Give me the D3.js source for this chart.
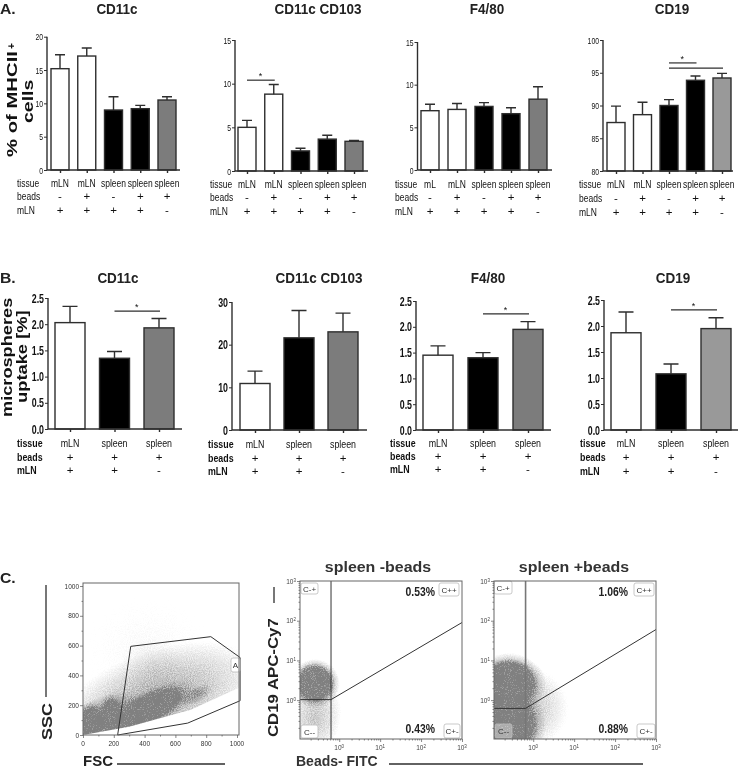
<!DOCTYPE html>
<html><head><meta charset="utf-8">
<script src="https://cdn.jsdelivr.net/npm/d3@7/dist/d3.min.js"></script>
<style>html,body{margin:0;padding:0;background:#fff}svg{display:block;opacity:.999}</style>
</head><body><svg id="c" width="740" height="770"></svg>
<script>
// ---- values
const tissue5 = ["mLN","mLN","spleen","spleen","spleen"];
const tissueF = ["mL","mLN","spleen","spleen","spleen"];
const beads5 = ["-","+","-","+","+"];
const mln5 = ["+","+","+","+","-"];
const tissue3 = ["mLN","spleen","spleen"];
const beads3 = ["+","+","+"];
const mln3 = ["+","+","-"];
const a1Mean = [15.2,17.1,9.0,9.2,10.5], a1Top = [17.3,18.3,11.0,9.7,11.0];
const a2Mean = [5.0,8.8,2.3,3.65,3.4], a2Top = [5.8,9.9,2.6,4.1,3.5];
const a3Mean = [6.95,7.1,7.45,6.6,8.3], a3Top = [7.7,7.8,7.9,7.3,9.75];
const a4Mean = [87.4,88.6,90.0,93.85,94.2], a4Top = [89.9,90.5,90.9,94.5,94.9];
const b1Mean = [2.03,1.35,1.93], b1Top = [2.34,1.48,2.11];
const b2Mean = [10.9,21.6,23.0], b2Top = [13.8,28.0,27.4];
const b3Mean = [1.45,1.4,1.95], b3Top = [1.63,1.5,2.1];
const b4Mean = [1.87,1.08,1.95], b4Top = [2.27,1.27,2.16];
const ticks15 = [0,5,10,15], ticks20 = [0,5,10,15,20], ticks100 = [80,85,90,95,100];
const ticks25 = [0,0.5,1,1.5,2,2.5], ticks30 = [0,10,20,30];
const scatterTicks = [0,200,400,600,800,1000];
const logTicks = [1,10,100,1000];
// FSC / SSC gate, and quadrant gates (x break, y break, right-end y)
const gateA = [[225,0],[310,595],[830,660],[1020,520],[1020,230],[680,80],[225,0]];
const edgeA = [[0,0],[300,55],[700,170],[1020,320],[1020,1000],[0,1000]];
const gateMinus = [0.63,1.03,90];
const gatePlus = [0.65,0.62,60];
// cell clouds: centre, radii, angle, density
const cloudA = [[420,560,760,640,0,.1],[460,215,760,330,-20,.6],[450,450,220,190,0,.1],[180,120,320,150,-15,.7],
  [55,85,110,135,0,1],[185,125,90,150,0,1],[430,180,320,120,-26,1],[730,270,120,55,-25,.6]];
const cloudMinus = [[-.1,.2,.8,1.1,0,.06],[-.6,-.45,.7,1.0,0,.42],[-.6,.42,.62,.64,0,.92]];
const cloudPlus = [[-.1,-.2,1.1,1.15,0,.42],[-.6,.4,.92,.82,0,1],[-.6,-.6,.92,1.0,0,1]];

// ---- layout
const A5 = {bw:18,cap:10,tf:9.5,tsx:.72,rowFs:11.5,rowSx:.74,rowW:"normal"};
const B3 = {bw:30,cap:15,tf:13,tsx:.68,rowFs:11.5,rowSx:.77,rowW:"bold",fmt:".1f",tw:"bold"};
const panels = [
 {...A5,t:"CD11c",tx:117,ty:14,m:a1Mean,e:a1Top,tk:ticks20,dom:[0,20],x0:47,x1:180,yTop:36.7,yBot:170,c0:60,c4:167,cols:["w","w","k","k","g"],tis:tissue5,bd:beads5,ml:mln5,lx:17,rows:[187,200,214],sigs:[]},
 {...A5,t:"CD11c CD103",tx:318,ty:14,m:a2Mean,e:a2Top,tk:ticks15,dom:[0,15],x0:235,x1:368,yTop:40,yBot:171,c0:247,c4:354,cols:["w","w","k","k","g"],tis:tissue5,bd:beads5,ml:mln5,lx:210,rows:[188,201,215],sigs:[[0,1,10.4]]},
 {...A5,t:"F4/80",tx:487,ty:14,m:a3Mean,e:a3Top,tk:ticks15,dom:[0,15],x0:417.5,x1:552,yTop:42,yBot:170,c0:430,c4:538,cols:["w","w","k","k","g"],tis:tissueF,bd:beads5,ml:mln5,lx:395,rows:[188,201,215],sigs:[]},
 {...A5,t:"CD19",tx:672,ty:14,m:a4Mean,e:a4Top,tk:ticks100,dom:[80,100],x0:603,x1:733,yTop:40,yBot:171,c0:616,c4:722,cols:["w","w","k","k","l"],tis:tissue5,bd:beads5,ml:mln5,lx:579,rows:[188,202,216],sigs:[[2,3,96.5],[2,4,95.7]]},
 {...B3,t:"CD11c",tx:118,ty:283,m:b1Mean,e:b1Top,tk:ticks25,dom:[0,2.5],x0:48,x1:182,yTop:298,yBot:429,c0:70,c4:159,cols:["w","k","g"],tis:tissue3,bd:beads3,ml:mln3,lx:17,rows:[447,461,474],sigs:[[1,2,2.25]]},
 {...B3,fmt:"d",t:"CD11c CD103",tx:319,ty:283,m:b2Mean,e:b2Top,tk:ticks30,dom:[0,30],x0:232,x1:367,yTop:302,yBot:430,c0:255,c4:343,cols:["w","k","g"],tis:tissue3,bd:beads3,ml:mln3,lx:208,rows:[448,462,475],sigs:[]},
 {...B3,t:"F4/80",tx:488,ty:283,m:b3Mean,e:b3Top,tk:ticks25,dom:[0,2.5],x0:416,x1:551,yTop:301,yBot:430,c0:438,c4:528,cols:["w","k","g"],tis:tissue3,bd:beads3,ml:mln3,lx:390,rows:[447,460,473],sigs:[[1,2,2.25]]},
 {...B3,t:"CD19",tx:673,ty:283,m:b4Mean,e:b4Top,tk:ticks25,dom:[0,2.5],x0:604,x1:738,yTop:300,yBot:430,c0:626,c4:716,cols:["w","k","l"],tis:tissue3,bd:beads3,ml:mln3,lx:580,rows:[447,461,475],sigs:[[1,2,2.31]]}
];
const fills = {w:"#fff",k:"#000",g:"#7c7c7c",l:"#999"};
const INK="#2e2e2e", SANS="'Liberation Sans',Arial,sans-serif";
const svg = d3.select("#c");
const defs = svg.append("defs");

function text(g,x,y,s,o={}){
  const tf=`translate(${x},${y})`+(o.rot?" rotate(-90)":"")+(o.sx?` scale(${o.sx},1)`:"");
  return g.append("text").attr("transform",tf).text(s)
   .attr("font-family",SANS).attr("font-size",o.fs||11)
   .attr("font-weight",o.fw||"normal").attr("fill",o.fill||"#111")
   .attr("text-anchor",o.a||"start");
}

panels.forEach(p=>{
  const g=svg.append("g");
  const idx=d3.range(p.m.length);
  const x=d3.scalePoint().domain(idx).range([p.c0,p.c4]);
  const y=d3.scaleLinear().domain(p.dom).range([p.yBot,p.yTop]);
  text(g,p.tx,p.ty,p.t,{fw:"bold",fs:14.5,sx:.93,a:"middle",fill:"#222"});
  g.selectAll(".bar").data(idx).join("rect").attr("class","bar")
   .attr("x",i=>x(i)-p.bw/2).attr("width",p.bw)
   .attr("y",i=>y(p.m[i])).attr("height",i=>p.yBot-y(p.m[i]))
   .attr("fill",i=>fills[p.cols[i]]).attr("stroke",INK).attr("stroke-width",1.4);
  g.selectAll(".err").data(idx).join("path").attr("class","err")
   .attr("d",i=>`M${x(i)},${y(p.m[i])}V${y(p.e[i])}M${x(i)-p.cap/2},${y(p.e[i])}h${p.cap}`)
   .attr("fill","none").attr("stroke",INK).attr("stroke-width",1.4);
  const ay=g.append("g").attr("transform",`translate(${p.x0},0)`)
   .call(d3.axisLeft(y).tickValues(p.tk).tickSize(3).tickPadding(1)
     .tickFormat(d3.format(p.fmt||"d")));
  ay.selectAll("text").attr("font-family",SANS).attr("font-size",p.tf)
    .attr("font-weight",p.tw||"normal").attr("fill","#111")
    .attr("x",-4/p.tsx).attr("transform",`scale(${p.tsx},1)`);
  const ax=g.append("g").attr("transform",`translate(0,${p.yBot})`)
   .call(d3.axisBottom(d3.scaleLinear().domain([p.x0,p.x1]).range([p.x0,p.x1]))
     .tickValues(idx.map(i=>x(i))).tickSize(3).tickFormat(""));
  [ay,ax].forEach(a=>{a.selectAll("path,line").attr("stroke",INK).attr("stroke-width",1.4);
    a.select(".domain").attr("d",a===ay?`M0,${p.yTop}V${p.yBot}`:`M${p.x0},0H${p.x1}`);});
  ay.selectAll(".tick line").attr("stroke-width",1);
  (p.sigs||[]).forEach((s,k)=>{
    g.append("line").attr("x1",x(s[0])).attr("x2",x(s[1])+1).attr("y1",y(s[2])).attr("y2",y(s[2]))
     .attr("stroke",INK).attr("stroke-width",1.2);
    if(k===0) text(g,x(s[0])+(x(s[1])-x(s[0]))/2,y(s[2])-1,"*",{fs:9,a:"middle"});
  });
  const tsty={fs:p.rowFs,sx:p.rowSx};
  ["tissue","beads","mLN"].forEach((r,k)=>text(g,p.lx,p.rows[k],r,{...tsty,fw:p.rowW}));
  idx.forEach(i=>{
    text(g,x(i),p.rows[0],p.tis[i],{...tsty,a:"middle"});
    text(g,x(i),p.rows[1],p.bd[i],{fs:11.5,a:"middle"});
    text(g,x(i),p.rows[2],p.ml[i],{fs:11.5,a:"middle"});
  });
});

// side labels
const lab=svg.append("g");
text(lab,0,14,"A.",{fw:"bold",fs:15,sx:1.05,fill:"#222"});
text(lab,0,283,"B.",{fw:"bold",fs:15,sx:1.05,fill:"#222"});
text(lab,0,583,"C.",{fw:"bold",fs:15,sx:1.05,fill:"#222"});
text(lab,17,157,"% of MHCII",{fw:"bold",fs:14,sx:1.45,rot:1});
text(lab,15,49,"+",{fw:"bold",fs:10,rot:1});
text(lab,33,123,"cells",{fw:"bold",fs:14,sx:1.39,rot:1});
text(lab,12,417,"microspheres",{fw:"bold",fs:14,sx:1.3,rot:1});
text(lab,27,403,"uptake [%]",{fw:"bold",fs:14,sx:1.31,rot:1});

// grain: density modulated by fine noise
const fl=defs.append("filter").attr("id","speck").attr("filterUnits","userSpaceOnUse")
 .attr("x",0).attr("y",560).attr("width",740).attr("height",210).attr("color-interpolation-filters","sRGB");
fl.append("feTurbulence").attr("type","fractalNoise").attr("baseFrequency",0.95).attr("numOctaves",2).attr("seed",4).attr("result","t");
fl.append("feColorMatrix").attr("in","t").attr("type","matrix")
 .attr("values","0 0 0 0 0 0 0 0 0 0 0 0 0 0 0 2.2 0 0 0 -0.6").attr("result","n");
fl.append("feComposite").attr("in","SourceGraphic").attr("in2","n").attr("operator","arithmetic")
 .attr("k1",.7).attr("k2",.65).attr("k3",0).attr("k4",0).attr("result","s");
const ct=fl.append("feComponentTransfer").attr("in","s").attr("result","a");
ct.append("feFuncA").attr("type","linear").attr("slope",1.25).attr("intercept",-.08);
fl.append("feFlood").attr("flood-color","#808080").attr("result","f");
fl.append("feComposite").attr("in","f").attr("in2","a").attr("operator","in");
const gr=defs.append("radialGradient").attr("id","plateau");
[[0,1],[.62,1],[.8,.3],[1,0]].forEach(s=>gr.append("stop").attr("offset",s[0]).attr("stop-color","#000").attr("stop-opacity",s[1]));
const gs=defs.append("radialGradient").attr("id","soft");
[[0,1],[.5,.55],[1,0]].forEach(s=>gs.append("stop").attr("offset",s[0]).attr("stop-color","#000").attr("stop-opacity",s[1]));
const cloudFill=d=>d[5]>=.9?"url(#plateau)":"url(#soft)";

function labelBox(g,b){
  g.append("rect").attr("x",b.x).attr("y",b.y).attr("width",b.w).attr("height",b.h).attr("rx",2)
   .attr("fill","#fff").attr("fill-opacity",b.op==null?1:b.op).attr("stroke","#bbb").attr("stroke-width",.8);
  text(g,b.x+b.w/2,b.y+b.h/2+3,b.s,{fs:8,a:"middle",fill:"#333"});
}
function frameAxes(g,x,y,vals,fmt,minor){
  const f=(sel,ax)=>{sel.call(ax);sel.select(".domain").remove();
    sel.selectAll("line").attr("stroke","#555").attr("stroke-width",.7);};
  const fx0=x.range()[0], fy1=y.range()[0];
  f(g.append("g").attr("transform",`translate(0,${fy1})`),d3.axisBottom(x).tickValues(vals).tickSize(3).tickFormat(""));
  f(g.append("g").attr("transform",`translate(${fx0},0)`),d3.axisLeft(y).tickValues(vals).tickSize(3).tickFormat(""));
  f(g.append("g").attr("transform",`translate(0,${fy1})`),d3.axisBottom(x).tickValues(minor).tickSize(1.5).tickFormat(""));
  f(g.append("g").attr("transform",`translate(${fx0},0)`),d3.axisLeft(y).tickValues(minor).tickSize(1.5).tickFormat(""));
  vals.forEach(v=>{fmt(g,x(v),fy1+11,v,"middle");fmt(g,fx0-4,y(v)+2.5,v,"end");});
}

// FSC/SSC panel
(function(){
  const x=d3.scaleLinear().domain([0,1000]).range([83,237]);
  const y=d3.scaleLinear().domain([0,1000]).range([735,586]);
  const g=svg.append("g");
  defs.append("clipPath").attr("id","clipA").append("path")
   .attr("d",d3.line().x(d=>x(d[0])).y(d=>y(d[1]))(edgeA)+"Z");
  defs.append("clipPath").attr("id","frameA").append("rect").attr("x",83).attr("y",583).attr("width",156).attr("height",152);
  const gf=g.append("g").attr("clip-path","url(#frameA)").append("g").attr("clip-path","url(#clipA)").append("g").attr("filter","url(#speck)");
  const k=154/1000;
  gf.selectAll("ellipse").data(cloudA).join("ellipse")
   .attr("rx",d=>d[2]*k).attr("ry",d=>d[3]*k)
   .attr("transform",d=>`translate(${x(d[0])},${y(d[1])}) rotate(${d[4]})`)
   .attr("fill",cloudFill).attr("opacity",d=>d[5]);
  g.append("path").attr("d",d3.line().x(d=>x(d[0])).y(d=>y(d[1]))(gateA)).attr("fill","none").attr("stroke","#333").attr("stroke-width",1);
  labelBox(g,{x:231,y:658,w:9,h:14,s:"A"});
  g.append("rect").attr("x",83).attr("y",583).attr("width",156).attr("height",152).attr("fill","none").attr("stroke","#666").attr("stroke-width",1);
  const fmt=(gg,px,py,v,a)=>text(gg,px,py,v,{fs:6.5,a,fill:"#333"});
  frameAxes(g,x,y,scatterTicks,fmt,d3.range(100,1000,200));
  g.append("line").attr("x1",46).attr("x2",46).attr("y1",585).attr("y2",697).attr("stroke",INK).attr("stroke-width",1.3);
  text(g,52,740,"SSC",{fw:"bold",fs:15,sx:1.2,rot:1,fill:"#222"});
  text(g,83,766,"FSC",{fw:"bold",fs:15,fill:"#222"});
  g.append("line").attr("x1",117).attr("x2",225).attr("y1",764).attr("y2",764).attr("stroke",INK).attr("stroke-width",1.3);
})();

function logPanel(cfg){
  const x=d3.scaleLog().domain([cfg.xMin,1000]).range([cfg.l,cfg.r]);
  const y=d3.scaleLog().domain([cfg.yMin,1000]).range([739,581]);
  const g=svg.append("g");
  const id="f"+cfg.l;
  defs.append("clipPath").attr("id",id).append("rect").attr("x",cfg.l).attr("y",581).attr("width",cfg.r-cfg.l).attr("height",158);
  const gf=g.append("g").attr("clip-path",`url(#${id})`).append("g").attr("filter","url(#speck)");
  const pw=v=>Math.pow(10,v);
  gf.selectAll("ellipse").data(cfg.cloud).join("ellipse")
   .attr("cx",d=>x(pw(d[0]))).attr("cy",d=>y(pw(d[1])))
   .attr("rx",d=>x(pw(d[0]+d[2]))-x(pw(d[0]))).attr("ry",d=>y(pw(d[1]))-y(pw(d[1]+d[3])))
   .attr("fill",cloudFill).attr("opacity",d=>d[5]);
  const [gx,gy,endY]=cfg.gate;
  const gl=g.append("g").attr("fill","none").attr("stroke","#333").attr("stroke-width",1);
  gl.append("line").attr("x1",x(gx)).attr("x2",x(gx)).attr("y1",581).attr("y2",739).attr("stroke",cfg.vCol||"#333").attr("stroke-width",cfg.vW||1);
  gl.append("path").attr("d",`M${cfg.l},${y(gy)}L${x(gx)},${y(gy)}L${cfg.r},${y(endY)}`);
  cfg.boxes.forEach(b=>labelBox(g,b));
  g.append("rect").attr("x",cfg.l).attr("y",581).attr("width",cfg.r-cfg.l).attr("height",158).attr("fill","none").attr("stroke","#666").attr("stroke-width",1);
  const fmt=(gg,px,py,v,a)=>{
    const t=text(gg,px,py,"",{fs:6.5,a,fill:"#444"});
    t.append("tspan").text("10");
    t.append("tspan").attr("dy",-2).attr("font-size",4.5).text(Math.round(Math.log10(v)));
  };
  const minor=[];
  [0.1,1,10,100].forEach(d=>d3.range(2,10).forEach(m=>{ if(d*m>=cfg.xMin&&d*m>=cfg.yMin) minor.push(d*m); }));
  frameAxes(g,x,y,logTicks,fmt,minor);
  cfg.pct.forEach(s=>text(g,cfg.pctX,s[1],s[0],{fw:"bold",fs:13,sx:.8,a:"end",fill:"#222"}));
  text(g,cfg.tx,572,cfg.title,{fw:"bold",fs:14.5,sx:1.1,a:"middle",fill:"#333"});
}
logPanel({l:300,r:462,xMin:0.11,yMin:0.105,cloud:cloudMinus,gate:gateMinus,pctX:435,tx:378,title:"spleen -beads",
 pct:[["0.53%",596],["0.43%",733]],
 boxes:[{x:301,y:583,w:17,h:11,s:"C-+"},{x:439,y:583,w:20,h:13,s:"C++"},{x:301,y:725,w:17,h:13,s:"C--"},{x:444,y:724,w:16,h:14,s:"C+-"}]});
logPanel({l:494,r:656,xMin:0.11,yMin:0.105,cloud:cloudPlus,gate:gatePlus,pctX:628,tx:574,title:"spleen +beads",vCol:"#777",vW:1.6,
 pct:[["1.06%",596],["0.88%",733]],
 boxes:[{x:494,y:581,w:18,h:13,s:"C-+"},{x:634,y:583,w:20,h:13,s:"C++"},{x:495,y:724,w:17,h:14,s:"C--",op:.35},{x:637,y:724,w:18,h:14,s:"C+-"}]});
text(svg,278,737,"CD19 APC-Cy7",{fw:"bold",fs:15,sx:1.12,rot:1,fill:"#222"});
svg.append("line").attr("x1",274).attr("x2",274).attr("y1",587).attr("y2",603).attr("stroke",INK).attr("stroke-width",1.3);
text(svg,296,766,"Beads- FITC",{fw:"bold",fs:14,fill:"#333"});
svg.append("line").attr("x1",389).attr("x2",643).attr("y1",764).attr("y2",764).attr("stroke",INK).attr("stroke-width",1.3);
</script></body></html>
